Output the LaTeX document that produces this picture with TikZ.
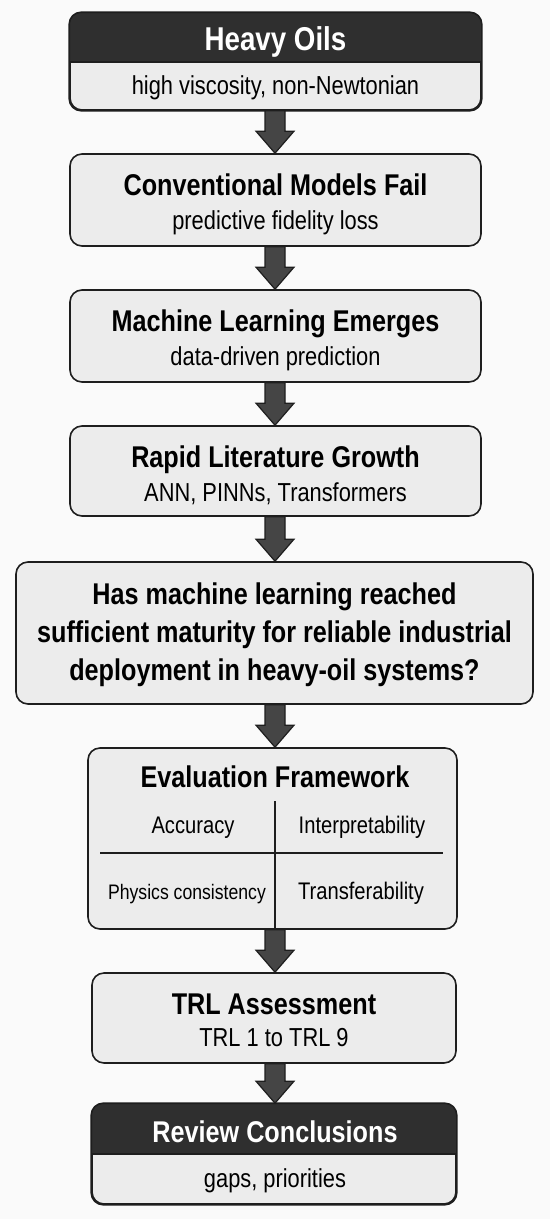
\documentclass[tikz,border=0pt]{standalone}
\usepackage{fontspec}
\setmainfont{Liberation Sans}[FakeStretch=0.84]
\usetikzlibrary{calc}
\definecolor{hdr}{HTML}{2F2F2F}
\definecolor{boxfill}{HTML}{ECECEC}
\definecolor{arrowfill}{HTML}{454545}
\definecolor{edge}{HTML}{1E1E1E}
\definecolor{bg}{HTML}{FAFAFA}
\newcommand\fatarrow[2]{%
  \draw[fat] let \p1=(#1.south -| axis), \p2=(#2.north -| axis) in
    (\x1-10pt,\y1) -- (\x1-10pt,\y2+22pt) -- (\x1-19pt,\y2+22pt) -- (\x2,\y2)
    -- (\x1+19pt,\y2+22pt) -- (\x1+10pt,\y2+22pt) -- (\x1+10pt,\y1) -- cycle;}
\newcommand\headerfill[2]{%
  \begin{scope}
    \clip[rounded corners=12pt] (#1.north west) rectangle (#1.south east);
    \fill[hdr] (#1.north west) rectangle (#1.east |- #2);
  \end{scope}
  \draw[edge, line width=1.6pt] (#1.west |- #2) -- (#1.east |- #2);
  \draw[edge, line width=1.6pt, rounded corners=12pt] (#1.north west) rectangle (#1.south east);}
\begin{document}
\begin{tikzpicture}[x=1pt,y=-1pt,
  box/.style={draw=edge, line width=1.6pt, fill=boxfill, rounded corners=12pt, inner sep=0pt},
  ttl/.style={anchor=base, inner sep=0pt, font=\fontsize{30}{36}\selectfont\bfseries, text=black},
  sub/.style={anchor=base, inner sep=0pt, font=\fontsize{26}{31}\selectfont, text=black},
  cell/.style={anchor=base, inner sep=0pt, font=\fontsize{24}{28}\selectfont, text=black},
  fat/.style={fill=arrowfill, draw=edge, line width=1.2pt, line join=miter},
  divider/.style={draw=edge, line width=1.5pt}
]
\fill[bg] (0,0) rectangle (550,1219);
\useasboundingbox (0,0) rectangle (550,1219);
\coordinate (axis) at (275,0);
\coordinate (h1) at (0,62);
\coordinate (h8) at (0,1154);

% boxes
\node[box, minimum width=411pt, minimum height=97pt] (b1) at (275.5,61.5) {};
\node[box, minimum width=411pt, minimum height=92pt] (b2) at (275.5,200) {};
\node[box, minimum width=411pt, minimum height=92pt] (b3) at (275.5,336) {};
\node[box, minimum width=411pt, minimum height=90pt] (b4) at (275.5,471) {};
\node[box, minimum width=517pt, minimum height=142pt] (b5) at (274.5,633) {};
\node[box, minimum width=369pt, minimum height=181pt] (b6) at (272.5,838.5) {};
\node[box, minimum width=364pt, minimum height=90pt] (b7) at (274,1018) {};
\node[box, minimum width=364pt, minimum height=100pt] (b8) at (274,1154) {};

\headerfill{b1}{h1}
\headerfill{b8}{h8}

% arrows
\fatarrow{b1}{b2}
\fatarrow{b2}{b3}
\fatarrow{b3}{b4}
\fatarrow{b4}{b5}
\fatarrow{b5}{b6}
\fatarrow{b6}{b7}
\fatarrow{b7}{b8}

% texts
\node[ttl, text=white, font=\fontsize{33}{39}\selectfont\bfseries] (t1) at (275.5,50) {Heavy Oils};
\node[sub] (s1) at (275.5,94) {high viscosity, non-Newtonian};
\node[ttl] (t2) at (275.5,195) {Conventional Models Fail};
\node[sub] (s2) at (275.5,229) {predictive fidelity loss};
\node[ttl] (t3) at (275.5,331) {Machine Learning Emerges};
\node[sub] (s3) at (275.5,365) {data-driven prediction};
\node[ttl] (t4) at (275.5,467) {Rapid Literature Growth};
\node[sub] (s4) at (275.5,501) {ANN, PINNs, Transformers};
\node[ttl] (q1) at (274.5,604) {Has machine learning reached};
\node[ttl] (q2) at (274.5,642) {sufficient maturity for reliable industrial};
\node[ttl] (q3) at (274.5,680) {deployment in heavy-oil systems?};
\node[ttl] (t6) at (275,787) {Evaluation Framework};

% framework grid
\coordinate (vtop) at (275,801);
\coordinate (hl) at (100,853);
\coordinate (hr) at (443,853);
\draw[divider] (vtop) -- (vtop |- b6.south);
\draw[divider] (hl) -- (hr);
\node[cell] (c1) at (193,833) {Accuracy};
\node[cell] (c2) at (362,833) {Interpretability};
\node[cell, font=\fontsize{21}{26}\selectfont] (c3) at (187,899) {Physics consistency};
\node[cell] (c4) at (361,899) {Transferability};

\node[ttl] (t7) at (274,1014) {TRL Assessment};
\node[sub] (s7) at (274,1046) {TRL 1 to TRL 9};
\node[ttl, text=white] (t8) at (275,1142) {Review Conclusions};
\node[sub] (s8) at (275,1187) {gaps, priorities};
\end{tikzpicture}
\end{document}
